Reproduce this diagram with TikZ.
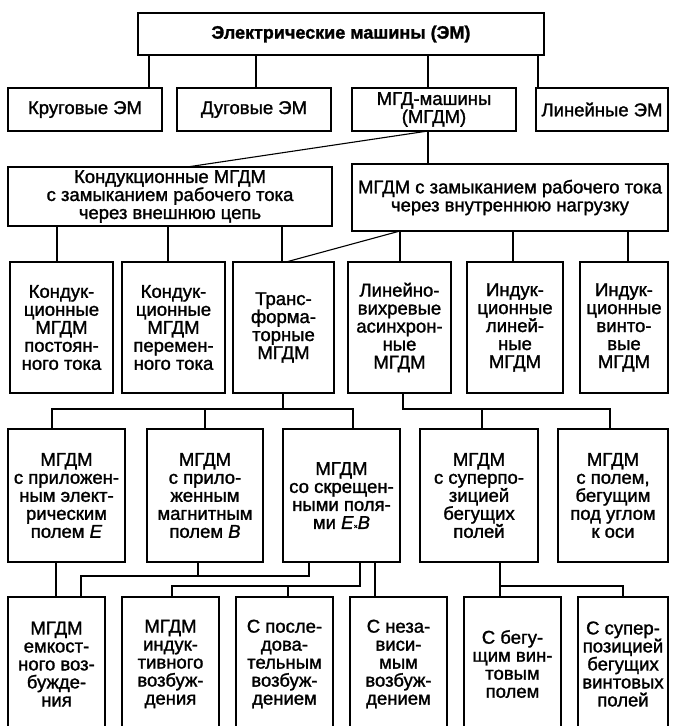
\documentclass[tikz,border=0pt]{standalone}
\usepackage{fontspec}
\setmainfont{Liberation Sans}[FakeBold=1.4]
\newcommand\fs{\fontsize{18.5}{18}\selectfont}
\tikzset{
  base/.style={draw, inner sep=0pt, outer sep=0pt, align=center, font=\fs},
  thinbox/.style={base, line width=1.1pt},
  thickbox/.style={base, line width=2.6pt},
  conn/.style={line width=1.1pt},
}
\newcommand\bx[7]{\node[#1, minimum width={(#4-#3)*1pt}, minimum height={(#6-#5)*1pt}] (#2) at ({(#3+#4)/2},{(#5+#6)/2}) {#7};}
\begin{document}
\begin{tikzpicture}[x=1pt,y=-1pt]
\useasboundingbox (0,0) rectangle (673,726);
\clip (0,0) rectangle (673,726);
% row 1
\bx{thinbox}{top}{138}{544}{13}{55}{\fontsize{18}{18}\selectfont\textbf{Электрические машины (ЭМ)}}
% row 2
\bx{thinbox}{r2a}{8}{162}{88}{131}{Круговые ЭМ}
\bx{thinbox}{r2b}{177}{331}{88}{131}{Дуговые ЭМ}
\bx{thinbox}{r2c}{352}{516}{88}{131}{МГД-машины\\(МГДМ)}
\bx{thinbox}{r2d}{536}{668}{88}{131}{Линейные ЭМ}
% row 3
\bx{thinbox}{r3a}{8}{332}{167}{226}{Кондукционные МГДМ\\с замыканием рабочего тока\\через внешнюю цепь}
\bx{thinbox}{r3b}{352}{668}{164}{231}{МГДМ с замыканием рабочего тока\\через внутреннюю нагрузку}
% row 4
\bx{thinbox}{r4a}{10}{113}{262}{393}{Кондук-\\ционные\\МГДМ\\постоян-\\ного тока}
\bx{thinbox}{r4b}{122}{225}{262}{393}{Кондук-\\ционные\\МГДМ\\перемен-\\ного тока}
\bx{thickbox}{r4c}{233}{334}{262}{393}{Транс-\\форма-\\торные\\МГДМ}
\bx{thickbox}{r4d}{348}{451}{262}{393}{Линейно-\\вихревые\\асинхрон-\\ные\\МГДМ}
\bx{thinbox}{r4e}{467}{563}{262}{393}{Индук-\\ционные\\линей-\\ные\\МГДМ}
\bx{thinbox}{r4f}{580}{668}{262}{393}{Индук-\\ционные\\винто-\\вые\\МГДМ}
% row 5
\bx{thickbox}{r5a}{8}{125}{429}{562}{МГДМ\\с приложен-\\ным элект-\\рическим\\полем \textit{E}}
\bx{thickbox}{r5b}{147}{263}{429}{562}{МГДМ\\с прило-\\женным\\магнитным\\полем \textit{B}}
\bx{thickbox}{r5c}{283}{400}{429}{562}{МГДМ\\со скрещен-\\ными поля-\\ми \textit{E}{\scriptsize×}\textit{B}}
\bx{thickbox}{r5d}{420}{538}{429}{562}{МГДМ\\с суперпо-\\зицией\\бегущих\\полей}
\bx{thickbox}{r5e}{558}{668}{429}{562}{МГДМ\\с полем,\\бегущим\\под углом\\к оси}
% row 6
\bx{thickbox}{r6a}{8}{105}{597}{731}{МГДМ\\емкост-\\ного воз-\\бужде-\\ния}
\bx{thickbox}{r6b}{122}{219}{597}{731}{МГДМ\\индук-\\тивного\\возбуж-\\дения}
\bx{thickbox}{r6c}{236}{333}{597}{731}{С после-\\дова-\\тельным\\возбуж-\\дением}
\bx{thickbox}{r6d}{350}{447}{597}{731}{С неза-\\виси-\\мым\\возбуж-\\дением}
\bx{thickbox}{r6e}{464}{561}{597}{731}{С бегу-\\щим вин-\\товым\\полем}
\bx{thickbox}{r6f}{578}{668}{597}{731}{С супер-\\позицией\\бегущих\\винтовых\\полей}
% connectors row1 -> row2
\draw[conn] (149,0 |- top.south) -- (149,0 |- r2a.north);
\draw[conn] (256,0 |- top.south) -- (256,0 |- r2b.north);
\draw[conn] (428,0 |- top.south) -- (428,0 |- r2c.north);
\draw[conn] (538,0 |- top.south) -- (538,0 |- r2d.north);
% row2 -> row3
\draw[conn] (428,0 |- r2c.south) -- (428,0 |- r3b.north);
\draw[conn] (428,0 |- r2c.south) -- (187,0 |- r3a.north);
% row3 -> row4
\draw[conn] (57,0 |- r3a.south) -- (57,0 |- r4a.north);
\draw[conn] (168,0 |- r3a.south) -- (168,0 |- r4b.north);
\draw[conn] (282,0 |- r3a.south) -- (282,0 |- r4c.north);
\draw[conn] (400,0 |- r3b.south) -- (400,0 |- r4d.north);
\draw[conn] (513,0 |- r3b.south) -- (513,0 |- r4e.north);
\draw[conn] (628,0 |- r3b.south) -- (628,0 |- r4f.north);
\draw[conn] (400,0 |- r3b.south) -- (286,0 |- r4c.north);
% row4 -> row5
\coordinate (busA) at (283,409);
\draw[conn] (283,0 |- r4c.south) -- (busA);
\draw[conn] (52,0 |- r5a.north) -- (52,409) -- (353,409) -- (353,0 |- r5c.north);
\draw[conn] (205,409) -- (205,0 |- r5b.north);
\coordinate (busB) at (403,409);
\draw[conn] (403,0 |- r4d.south) -- (busB) -- (610,409) -- (610,0 |- r5e.north);
\draw[conn] (482,409) -- (482,0 |- r5d.north);
% row5 -> row6
\draw[conn] (56,0 |- r5a.south) -- (56,0 |- r6a.north);
\draw[conn] (198,0 |- r5b.south) -- (198,576) -- (81,576) -- (81,0 |- r6a.north);
\draw[conn] (309,0 |- r5c.south) -- (309,576) -- (198,576);
\draw[conn] (360,0 |- r5c.south) -- (360,586) -- (172,586) -- (172,0 |- r6b.north);
\draw[conn] (288,586) -- (288,0 |- r6c.north);
\draw[conn] (375,0 |- r5c.south) -- (375,0 |- r6d.north);
\draw[conn] (500,0 |- r5d.south) -- (500,0 |- r6e.north);
\draw[conn] (500,586) -- (623,586) -- (623,0 |- r6f.north);
\end{tikzpicture}
\end{document}
